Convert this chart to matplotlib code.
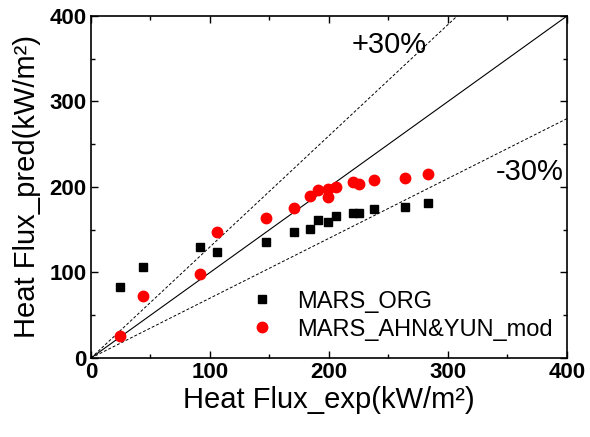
import numpy as np
import matplotlib.pyplot as plt

plt.rcParams['font.family'] = ['Liberation Sans', 'DejaVu Sans']

# Datos
exp_org = [24, 44, 92, 106, 147, 171, 184, 191, 199, 206, 220, 225, 238, 264, 283]
pred_org = [83, 106, 130, 124, 136, 147, 151, 161, 159, 166, 170, 170, 174, 177, 181]

exp_mod = [24, 44, 92, 106, 147, 171, 184, 191, 199, 199, 206, 220, 225, 238, 264, 283]
pred_mod = [26, 72, 98, 147, 164, 176, 190, 196, 198, 188, 200, 206, 204, 208, 211, 215]

lim = [0, 400]
ticks = [0, 100, 200, 300, 400]

fig = plt.figure(figsize=(5.9, 4.37), dpi=100)
ax = fig.add_axes([0.1542, 0.1808, 0.8068, 0.7826])

# Lineas de referencia
x_line = np.array(lim, dtype=float)
ax.plot(x_line, x_line, color='black', lw=0.8)
ax.plot(x_line, 1.3 * x_line, color='black', lw=0.7, ls=(0, (3, 2)))
ax.plot(x_line, 0.7 * x_line, color='black', lw=0.7, ls=(0, (3, 2)))

ax.plot(exp_org, pred_org, 's', color='black', ms=6, label='MARS_ORG')
ax.plot(exp_mod, pred_mod, 'o', color='red', ms=7.5, mec='red', label='MARS_AHN&YUN_mod')

ax.text(251, 366, '+30%', fontsize=21, ha='center', va='center')
ax.text(369, 217, '-30%', fontsize=21, ha='center', va='center')

ax.set_xlim(lim)
ax.set_ylim(lim)
ax.set_xticks(ticks)
ax.set_yticks(ticks)
ax.set_xticks([50, 150, 250, 350], minor=True)
ax.set_yticks([50, 150, 250, 350], minor=True)
ax.tick_params(which='both', direction='in', top=True, right=True, width=1.0)
ax.tick_params(which='major', length=5, labelsize=16, pad=3)
ax.tick_params(which='minor', length=3)
for lab in ax.get_xticklabels() + ax.get_yticklabels():
    lab.set_fontweight('bold')
for sp in ax.spines.values():
    sp.set_linewidth(1.2)

ax.set_xlabel('Heat Flux_exp(kW/m²)', fontsize=21, labelpad=2)
ax.set_ylabel('Heat Flux_pred(kW/m²)', fontsize=21, labelpad=6)

ax.legend(loc='center left', bbox_to_anchor=(0.31, 0.124), frameon=False,
          fontsize=17, handletextpad=0.9, labelspacing=0.25, handlelength=1.2,
          borderaxespad=0)

fig.savefig('out.png', dpi=100)
